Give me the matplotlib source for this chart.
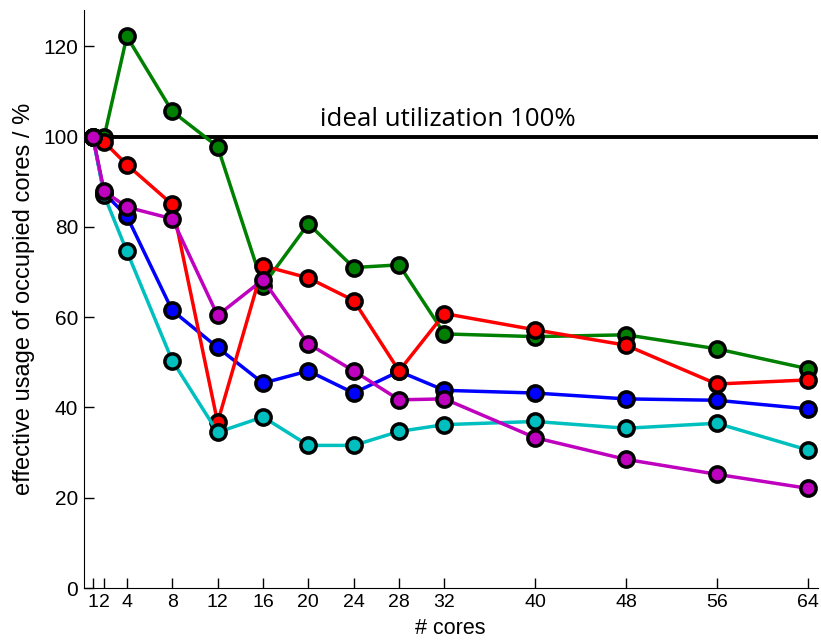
import matplotlib.pyplot as plt

cores = [1, 2, 4, 8, 12, 16, 20, 24, 28, 32, 40, 48, 56, 64]

# effective usage of occupied cores in %
green = [100, 100, 122.2, 105.6, 97.8, 67, 80.7, 71, 71.6, 56.3, 55.7, 56.1, 53, 48.6]
red = [100, 98.8, 93.8, 85, 36.7, 71.4, 68.7, 63.7, 48.1, 60.8, 57.2, 53.8, 45.2, 46.1]
blue = [100, 87.5, 82.4, 61.5, 53.3, 45.4, 48.1, 43.2, 48, 43.8, 43.2, 41.9, 41.6, 39.7]
cyan = [100, 87, 74.6, 50.4, 34.5, 37.9, 31.6, 31.6, 34.7, 36.2, 36.9, 35.4, 36.5, 30.6]
magenta = [100, 87.9, 84.4, 81.8, 60.4, 68.3, 54.1, 48.1, 41.7, 41.9, 33.3, 28.5, 25.2, 22.1]

series = [(blue, "#0000ff"), (green, "#008000"), (red, "#ff0000"),
          (cyan, "#00bfbf"), (magenta, "#bf00bf")]

plt.rcParams['font.family'] = ['Liberation Sans', 'DejaVu Sans']

fig = plt.figure(figsize=(8.21, 6.43), dpi=100)
ax = fig.add_axes([0.102, 0.0855, 0.894, 0.8985])

ax.axhline(100, color="black", linewidth=2.8, zorder=1)
for vals, col in series:
    ax.plot(cores, vals, "-o", color=col, linewidth=2.5, markersize=11,
            markerfacecolor=col, markeredgecolor="black", markeredgewidth=2.5)

ax.text(21, 102.3, "ideal utilization 100%", fontsize=18.6, family="Open Sans")

ax.set_xlim(0.2, 64.9)
ax.set_ylim(0, 128)
ax.set_xticks(cores)
ax.set_yticks([0, 20, 40, 60, 80, 100, 120])
ax.tick_params(direction="in", length=7, width=1, pad=4)
ax.tick_params(axis="x", labelsize=14)
ax.tick_params(axis="y", labelsize=15)
ax.spines["top"].set_visible(False)
ax.spines["right"].set_visible(False)
ax.set_xlabel("# cores", fontsize=15.5, labelpad=5)
ax.set_ylabel("effective usage of occupied cores / %", fontsize=17, labelpad=6)

plt.savefig("out.png", dpi=100)
